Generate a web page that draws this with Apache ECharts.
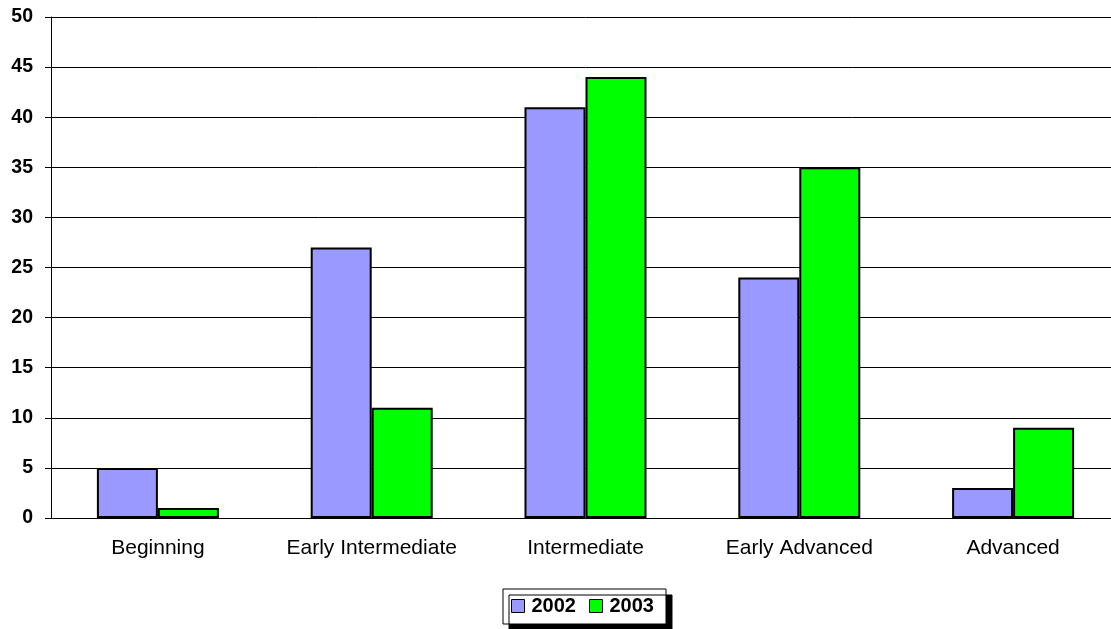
<!DOCTYPE html>
<html><head><meta charset="utf-8">
<script src="https://cdn.jsdelivr.net/npm/echarts@6/dist/echarts.min.js"></script>
<style>html,body{margin:0;padding:0;background:#fff;overflow:hidden;width:1111px;height:629px}#c{width:1130px;height:629px}</style>
</head><body><div id="c"></div>
<script>
const categories = ['Beginning', 'Early Intermediate', 'Intermediate', 'Early Advanced', 'Advanced'];
const values2002 = [5, 27, 41, 24, 3];
const values2003 = [1, 11, 44, 35, 9];
const yTicks = { min: 0, max: 50, interval: 5 };

const FONT = 'Liberation Sans, Arial, sans-serif';
const chart = echarts.init(document.getElementById('c'), null, { renderer: 'canvas' });
chart.setOption({
  animation: false,
  backgroundColor: '#fff',
  grid: { left: 51, right: 10, top: 17, bottom: 111, containLabel: false },
  legend: {
    left: 503, top: 589,
    icon: 'rect',
    itemWidth: 13, itemHeight: 13, itemGap: 13,
    padding: [7, 12, 8, 8],
    backgroundColor: '#fff', borderColor: '#000', borderWidth: 1,
    shadowColor: '#000', shadowBlur: 0, shadowOffsetX: 6, shadowOffsetY: 6,
    itemStyle: { borderWidth: 1, borderColor: '#000' },
    textStyle: { fontFamily: FONT, fontWeight: 'bold', fontSize: 20, color: '#000', padding: [0, 0, 0, 2] },
    data: ['2002', '2003']
  },
  xAxis: {
    type: 'category', data: categories,
    axisLine: { lineStyle: { color: '#000', width: 1 } },
    axisTick: { show: false },
    axisLabel: { interval: 0, hideOverlap: false, fontFamily: FONT, fontSize: 21, color: '#000', margin: 20 }
  },
  yAxis: {
    type: 'value', min: yTicks.min, max: yTicks.max, interval: yTicks.interval,
    axisLine: { show: true, lineStyle: { color: '#000', width: 1 } },
    axisTick: { show: true, length: 6, lineStyle: { color: '#000' } },
    axisLabel: { fontFamily: FONT, fontSize: 19.5, fontWeight: 'bold', color: '#000', margin: 18 },
    splitLine: { lineStyle: { color: '#000', width: 1 } }
  },
  series: [
    { name: '2002', type: 'bar', data: values2002, barGap: '0%', barWidth: 61,
      itemStyle: { color: '#9999FF', borderColor: '#000', borderWidth: 2 } },
    { name: '2003', type: 'bar', data: values2003, barGap: '0%', barWidth: 61,
      itemStyle: { color: '#00FF00', borderColor: '#000', borderWidth: 2 } }
  ]
});
</script></body></html>
